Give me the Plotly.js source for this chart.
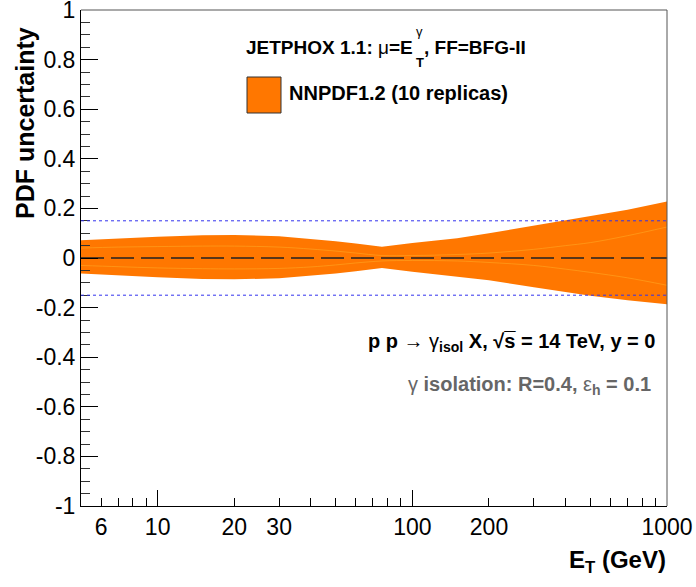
<!DOCTYPE html>
<html>
<head>
<meta charset="utf-8">
<script src="https://cdn.plot.ly/plotly-3.0.1.min.js"></script>
<style>html,body{margin:0;padding:0;background:#fff;}#plot{width:696px;height:587px;}</style>
</head>
<body>
<div id="plot"></div>
<script>
// ---- data ----
const ET      = [5, 7, 10, 15, 20, 30, 40, 50, 60, 76, 100, 150, 200, 300, 400, 500, 700, 1000];
const upper   = [0.072, 0.080, 0.086, 0.092, 0.093, 0.088, 0.078, 0.068, 0.058, 0.045, 0.060, 0.080, 0.100, 0.130, 0.152, 0.168, 0.195, 0.228];
const lower   = [-0.062, -0.070, -0.078, -0.085, -0.086, -0.082, -0.073, -0.063, -0.053, -0.040, -0.055, -0.075, -0.090, -0.118, -0.138, -0.152, -0.170, -0.186];
const repA    = [0.040, 0.044, 0.046, 0.048, 0.048, 0.044, 0.036, 0.028, 0.020, 0.010, 0.010, 0.014, 0.020, 0.035, 0.050, 0.062, 0.090, 0.125];
const repB    = [-0.030, -0.035, -0.040, -0.043, -0.044, -0.042, -0.036, -0.028, -0.020, -0.012, -0.010, -0.012, -0.018, -0.030, -0.045, -0.058, -0.080, -0.110];
const refLevels = [0.15, -0.15];
const zeroLevel = 0;
const xTickVals = [6, 10, 20, 30, 100, 200, 1000];
const xTickText = ['6', '10', '20', '30', '100', '200', '1000'];
const xMajorVals = [10, 100, 1000];
const xMinorVals = [5, 7, 8, 9, 40, 50, 60, 70, 80, 90, 300, 400, 500, 600, 700, 800, 900];
const yTickVals = [-1, -0.8, -0.6, -0.4, -0.2, 0, 0.2, 0.4, 0.6, 0.8, 1];
const yTickText = ['-1', '-0.8', '-0.6', '-0.4', '-0.2', '0', '0.2', '0.4', '0.6', '0.8', '1'];

// ---- layout helpers (pixel -> paper) ----
const L = 81, R = 667, T = 10, B = 506;
const px = x => (x - L) / (R - L);
const py = y => (B - y) / (B - T);

const ORANGE = '#ff7700';
const FONT = 'Liberation Sans, Arial, Helvetica, sans-serif';
const N = s => "<span style='font-weight:normal'>" + s + "</span>";

const traces = [
  {x: ET, y: lower, mode: 'lines', line: {width: 0, color: ORANGE}, hoverinfo: 'skip', showlegend: false},
  {x: ET, y: upper, mode: 'lines', line: {width: 0, color: ORANGE}, fill: 'tonexty', fillcolor: ORANGE, hoverinfo: 'skip', showlegend: false},
  {x: ET, y: repA, mode: 'lines', line: {width: 1, color: 'rgba(255,175,40,0.5)', shape: 'spline'}, hoverinfo: 'skip', showlegend: false},
  {x: ET, y: repB, mode: 'lines', line: {width: 1, color: 'rgba(255,175,40,0.5)', shape: 'spline'}, hoverinfo: 'skip', showlegend: false},
  {x: [ET[0], ET[ET.length - 1]], y: [zeroLevel, zeroLevel], xaxis: 'x2', mode: 'lines',
   line: {width: 1.6, color: '#222', dash: '23px,7px'}, hoverinfo: 'skip', showlegend: false}
];

const shapes = refLevels.map(v => ({
  type: 'line', xref: 'paper', yref: 'y', x0: 0, x1: 1, y0: v, y1: v,
  line: {color: '#3333ee', width: 1, dash: 'dot'}, layer: 'above'
}));
// top/right frame
shapes.push({type: 'path', xref: 'paper', yref: 'paper', path: 'M 0,1 L 1,1 L 1,0', line: {color: '#555', width: 1}, layer: 'above'});
// legend box
shapes.push({type: 'rect', xref: 'paper', yref: 'paper', x0: px(247), x1: px(281), y0: py(113), y1: py(77),
  fillcolor: ORANGE, line: {color: '#333', width: 1}, layer: 'above'});

const bold = (size, color) => ({family: FONT, size: size, color: color || '#000', weight: 'bold'});

const annotations = [
  {xref: 'paper', yref: 'paper', x: px(415), y: py(47.5), xanchor: 'right', yanchor: 'middle', showarrow: false,
   text: 'JETPHOX 1.1: ' + N('μ') + '=E', font: bold(19)},
  {xref: 'paper', yref: 'paper', x: px(414), y: py(32), xanchor: 'left', yanchor: 'middle', showarrow: false,
   text: 'γ', font: {family: FONT, size: 13, color: '#000'}},
  {xref: 'paper', yref: 'paper', x: px(414), y: py(62), xanchor: 'left', yanchor: 'middle', showarrow: false,
   text: 'T', font: bold(13)},
  {xref: 'paper', yref: 'paper', x: px(422), y: py(47.5), xanchor: 'left', yanchor: 'middle', showarrow: false,
   text: ', FF=BFG-II', font: bold(19)},
  {xref: 'paper', yref: 'paper', x: px(287), y: py(93), xanchor: 'left', yanchor: 'middle', showarrow: false,
   text: 'NNPDF1.2 (10 replicas)', font: bold(20)},
  {xref: 'paper', yref: 'paper', x: px(657), y: py(342), xanchor: 'right', yanchor: 'middle', showarrow: false,
   text: 'p p ' + N('→ γ') + '<sub>isol</sub> X, √s\u0305 = 14 TeV, y = 0', font: bold(20)},
  {xref: 'paper', yref: 'paper', x: px(653), y: py(385), xanchor: 'right', yanchor: 'middle', showarrow: false,
   text: N('γ') + ' isolation: R=0.4, ' + N('ε') + '<sub>h</sub> = 0.1', font: bold(20, '#666')},
  {xref: 'paper', yref: 'paper', x: px(25), y: py(123), xanchor: 'center', yanchor: 'middle', showarrow: false,
   textangle: -90, text: 'PDF uncertainty', font: bold(25)},
  {xref: 'paper', yref: 'paper', x: px(668), y: py(561), xanchor: 'right', yanchor: 'middle', showarrow: false,
   text: 'E<sub>T</sub> (GeV)', font: bold(24)}
];

const xRange = [Math.log10(5), Math.log10(1000)];

const layout = {
  width: 696, height: 587,
  margin: {l: L, r: 696 - R, t: T, b: 587 - B, pad: 0},
  paper_bgcolor: '#fff', plot_bgcolor: '#fff',
  showlegend: false,
  font: {family: FONT, color: '#000'},
  xaxis: {
    type: 'log', range: xRange, tickmode: 'array', tickvals: xTickVals, ticktext: xTickText,
    ticks: 'inside', ticklen: 8, tickwidth: 1, tickcolor: '#000',
    minor: {tickmode: 'array', tickvals: xMinorVals, ticks: 'inside', ticklen: 8, tickwidth: 1, tickcolor: '#000', showgrid: false},
    showline: true, linecolor: '#000', linewidth: 1, mirror: false, ticklabeloverflow: 'allow',
    showgrid: false, zeroline: false, tickfont: {family: FONT, size: 23, color: '#000'}, fixedrange: true
  },
  xaxis2: {
    type: 'log', range: xRange, overlaying: 'x', anchor: 'y', side: 'bottom', tickmode: 'array', tickvals: xMajorVals,
    ticks: 'inside', ticklen: 16, tickwidth: 1, tickcolor: '#000', showticklabels: false,
    showline: false, showgrid: false, zeroline: false, fixedrange: true
  },
  yaxis: {
    range: [-1, 1], tickmode: 'array', tickvals: yTickVals, ticktext: yTickText,
    ticks: 'inside', ticklen: 17, tickwidth: 1, tickcolor: '#000',
    minor: {tickmode: 'linear', tick0: 0, dtick: 0.05, ticks: 'inside', ticklen: 9, tickwidth: 1, tickcolor: '#333', showgrid: false},
    showline: true, linecolor: '#000', linewidth: 1, mirror: false, ticklabeloverflow: 'allow',
    showgrid: false, zeroline: false, tickfont: {family: FONT, size: 23, color: '#000'}, fixedrange: true
  },
  shapes: shapes,
  annotations: annotations
};

Plotly.newPlot('plot', traces, layout, {staticPlot: true, displayModeBar: false});
</script>
</body>
</html>
